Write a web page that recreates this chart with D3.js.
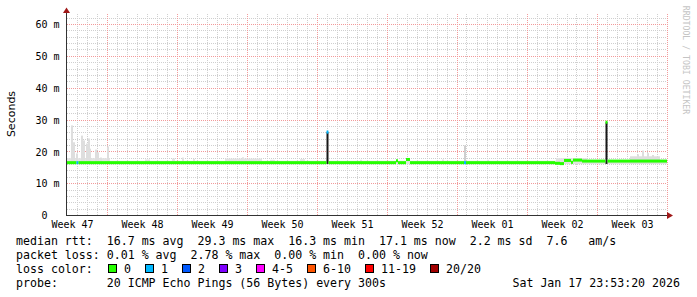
<!DOCTYPE html>
<html>
<head>
<meta charset="utf-8">
<script src="https://cdn.jsdelivr.net/npm/d3@7"></script>
<style>
body { margin: 0; background: #fff; }
svg { display: block; }
text { white-space: pre; }
</style>
</head>
<body>
<svg></svg>
<script>
const weekLabels = ["Week 47", "Week 48", "Week 49", "Week 50", "Week 51", "Week 52", "Week 01", "Week 02", "Week 03"];
const weekLabelDays = [0.5, 7.5, 14.5, 21.5, 28.5, 35.5, 42.5, 49.5, 56.5];
const weekStartDays = [4, 11, 18, 25, 32, 39, 46, 53, 60];
const yTicks = [0, 10, 20, 30, 40, 50, 60];

// median rtt steps (day from start, ms, lost pings)
const medDay   = [0, 0.95, 1.15, 25.95, 26.15, 32.9, 33.1, 33.9, 34.3, 39.7, 39.9, 48.8, 49.3, 49.7, 50.4, 50.6, 51.5, 53.85, 54.05];
const medValue = [16.6, 16.6, 16.6, 26.2, 16.6, 17.2, 16.6, 17.6, 16.6, 16.6, 16.6, 16.4, 16.3, 17.3, 16.7, 17.4, 17.1, 29.3, 17.1];
const medLoss  = [0, 1, 0, 1, 0, 0, 0, 0, 0, 1, 0, 0, 0, 0, 0, 0, 0, 0, 0];

// smoke (spread of the pings)
const smokeStart = [0, 0, 0.4, 0.6, 0.9, 1.4, 1.6, 1.9, 2.1, 2.2, 2.8, 3.0, 3.3, 4.0, 7.8, 10.5, 11.5, 12.6, 15.8, 17.5, 20.3, 23.3, 25.95, 29.3, 37.5, 39.7, 42.0, 48.9, 53.85, 56.3, 57.0, 57.5, 58.0, 58.5, 59.3];
const smokeEnd   = [60, 4.3, 0.6, 0.8, 1.1, 1.6, 1.8, 2.1, 2.3, 2.4, 3.0, 3.2, 3.5, 4.2, 8.3, 10.8, 11.7, 12.8, 19.5, 17.7, 20.8, 23.8, 26.15, 29.5, 37.7, 39.9, 42.2, 52.0, 54.05, 59.3, 57.2, 57.7, 58.2, 58.7, 60];
const smokeMax   = [17.2, 18.0, 28.3, 23.0, 19.5, 25.1, 23.6, 22.6, 24.2, 21.0, 20.7, 19.8, 18.2, 21.7, 17.6, 17.9, 18.2, 17.8, 17.9, 18.3, 17.5, 17.7, 26.2, 17.5, 17.6, 22.0, 17.5, 18.0, 29.3, 18.6, 19.2, 20.4, 19.6, 19.0, 17.5];
const smokeShade = [0.2, 0.2, 0.22, 0.22, 0.22, 0.22, 0.22, 0.22, 0.22, 0.22, 0.22, 0.22, 0.22, 0.22, 0.2, 0.2, 0.2, 0.2, 0.2, 0.2, 0.2, 0.2, 0.92, 0.2, 0.2, 0.3, 0.2, 0.2, 0.92, 0.22, 0.22, 0.22, 0.22, 0.22, 0.2];

const lossLabels = ["0", "1", "2", "3", "4-5", "6-10", "11-19", "20/20"];
const lossColors = ["#26ff00", "#00b8ff", "#0059ff", "#7e00ff", "#ff00ff", "#ff5500", "#ff0000", "#a10000"];

const legendRows = [
    "median rtt:  16.7 ms avg  29.3 ms max  16.3 ms min  17.1 ms now  2.2 ms sd  7.6   am/s",
    "packet loss: 0.01 % avg  2.78 % max  0.00 % min  0.00 % now",
    "loss color:",
    "probe:       20 ICMP Echo Pings (56 Bytes) every 300s"
];
const stamp = "Sat Jan 17 23:53:20 2026";

const width = 697, height = 297;
const mono = "'DejaVu Sans Mono', monospace";
const svg = d3.select("svg")
    .attr("width", width)
    .attr("height", height);

const x = d3.scaleLinear().domain([0, 60]).range([67, 667]);
const y = d3.scaleLinear().domain([0, 63.3]).range([215.5, 14]);
const snap = v => Math.floor(v) + 0.5;

// grid
const grid = svg.append("g").attr("stroke-dasharray", "1,1").attr("fill", "none");
grid.selectAll("line.hmin")
    .data(d3.range(2, 64, 2).filter(v => v % 10 !== 0))
    .enter().append("line")
    .attr("x1", 67).attr("x2", 667)
    .attr("y1", d => snap(y(d))).attr("y2", d => snap(y(d)))
    .attr("stroke", "#cfcfcf");
grid.selectAll("line.vmin")
    .data(d3.range(1, 60).filter(d => !weekStartDays.includes(d)))
    .enter().append("line")
    .attr("x1", d => snap(x(d))).attr("x2", d => snap(x(d)))
    .attr("y1", 14).attr("y2", 215)
    .attr("stroke", "#cfcfcf");
grid.selectAll("line.hmaj")
    .data(yTicks.filter(v => v > 0))
    .enter().append("line")
    .attr("x1", 67).attr("x2", 667)
    .attr("y1", d => snap(y(d))).attr("y2", d => snap(y(d)))
    .attr("stroke", "#f29a9a");
grid.selectAll("line.vmaj")
    .data(weekStartDays)
    .enter().append("line")
    .attr("x1", d => snap(x(d))).attr("x2", d => snap(x(d)))
    .attr("y1", 14).attr("y2", 215)
    .attr("stroke", "#f29a9a");

// smoke
svg.append("g").selectAll("rect")
    .data(smokeStart.map((s, i) => ({ s, e: smokeEnd[i], max: smokeMax[i], shade: smokeShade[i] })))
    .enter().append("rect")
    .attr("x", d => x(d.s))
    .attr("width", d => x(d.e) - x(d.s))
    .attr("y", d => y(d.max))
    .attr("height", d => y(16.2) - y(d.max))
    .attr("fill", d => d3.interpolateGreys(d.shade));

// median
svg.append("g").selectAll("rect")
    .data(medDay.map((d, i) => ({ d, next: i + 1 < medDay.length ? medDay[i + 1] : 60, v: medValue[i], loss: medLoss[i] })))
    .enter().append("rect")
    .attr("x", d => x(d.d))
    .attr("width", d => x(d.next) - x(d.d))
    .attr("y", d => y(d.v) - 1.5)
    .attr("height", 3)
    .attr("fill", d => lossColors[d.loss]);

// axes
const yAxis = svg.append("g")
    .attr("transform", "translate(67,0)")
    .call(d3.axisLeft(y).tickValues(yTicks).tickSize(0).tickPadding(7.5)
        .tickFormat(d => d === 0 ? "0  " : d + " m"));
yAxis.select(".domain").remove();
yAxis.selectAll("text").attr("font-family", mono).attr("font-size", 10).attr("fill", "#000");

const xAxis = svg.append("g")
    .attr("transform", "translate(0,215)")
    .call(d3.axisBottom(x).tickValues(weekLabelDays).tickSize(0).tickPadding(6.2)
        .tickFormat((d, i) => weekLabels[i]));
xAxis.select(".domain").remove();
xAxis.selectAll("text").attr("font-family", mono).attr("font-size", 10).attr("fill", "#000");

svg.append("line").attr("x1", 66.5).attr("x2", 66.5).attr("y1", 216).attr("y2", 12).attr("stroke", "#333");
svg.append("line").attr("x1", 66).attr("x2", 668).attr("y1", 215.5).attr("y2", 215.5).attr("stroke", "#333");
svg.append("path").attr("d", "M63,13L70,13L66.5,7.5Z").attr("fill", "#a01818");
svg.append("path").attr("d", "M667,212L667,219L673,215.5Z").attr("fill", "#a01818");

svg.append("text")
    .attr("transform", "translate(14.5,114) rotate(-90)")
    .attr("text-anchor", "middle")
    .attr("font-family", "'DejaVu Sans', sans-serif")
    .attr("font-size", 11)
    .text("Seconds");

svg.append("text")
    .attr("transform", "translate(683,60) rotate(90)")
    .attr("text-anchor", "middle")
    .attr("font-family", mono)
    .attr("font-size", 8.2)
    .attr("fill", "#c4c4c4")
    .text("RRDTOOL / TOBI OETIKER");

// legend
svg.append("g").selectAll("text")
    .data(legendRows)
    .enter().append("text")
    .attr("x", 16)
    .attr("y", (d, i) => 245 + i * 14)
    .attr("font-family", mono)
    .attr("font-size", 11.6)
    .text(d => d);

svg.append("text")
    .attr("x", 680).attr("y", 287)
    .attr("text-anchor", "end")
    .attr("font-family", mono)
    .attr("font-size", 11.6)
    .text(stamp);

let lx = 108.5;
lossLabels.forEach((label, i) => {
    svg.append("rect")
        .attr("x", lx).attr("y", 264.5)
        .attr("width", 8).attr("height", 8)
        .attr("fill", lossColors[i])
        .attr("stroke", "#000");
    svg.append("text")
        .attr("x", lx + 15.5).attr("y", 273)
        .attr("font-family", mono)
        .attr("font-size", 11.6)
        .text(label);
    lx += 30 + 7 * label.length;
});
</script>
</body>
</html>
